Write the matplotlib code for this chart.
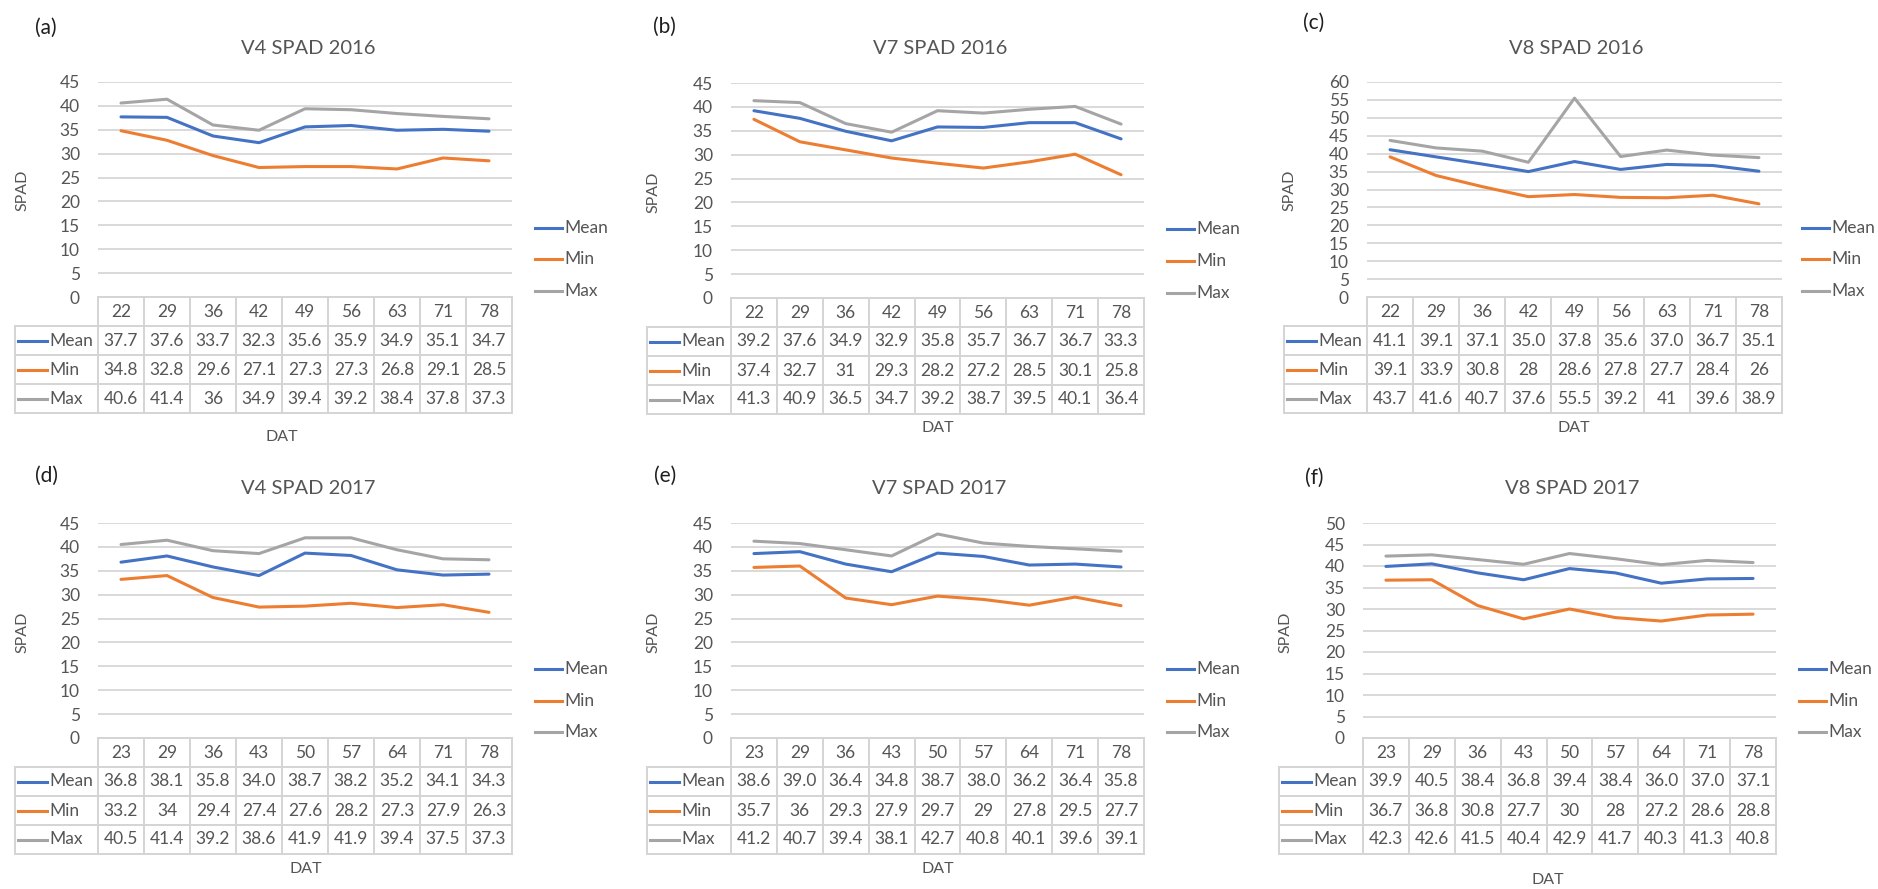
import matplotlib
matplotlib.use("Agg")
import matplotlib.pyplot as plt
from matplotlib.lines import Line2D

# ---------------------------------------------------------------- data
dat_2016 = [22, 29, 36, 42, 49, 56, 63, 71, 78]
dat_2017 = [23, 29, 36, 43, 50, 57, 64, 71, 78]

v4_2016_mean = [37.7, 37.6, 33.7, 32.3, 35.6, 35.9, 34.9, 35.1, 34.7]
v4_2016_min = [34.8, 32.8, 29.6, 27.1, 27.3, 27.3, 26.8, 29.1, 28.5]
v4_2016_max = [40.6, 41.4, 36, 34.9, 39.4, 39.2, 38.4, 37.8, 37.3]

v7_2016_mean = [39.2, 37.6, 34.9, 32.9, 35.8, 35.7, 36.7, 36.7, 33.3]
v7_2016_min = [37.4, 32.7, 31, 29.3, 28.2, 27.2, 28.5, 30.1, 25.8]
v7_2016_max = [41.3, 40.9, 36.5, 34.7, 39.2, 38.7, 39.5, 40.1, 36.4]

v8_2016_mean = [41.1, 39.1, 37.1, 35.0, 37.8, 35.6, 37.0, 36.7, 35.1]
v8_2016_min = [39.1, 33.9, 30.8, 28, 28.6, 27.8, 27.7, 28.4, 26]
v8_2016_max = [43.7, 41.6, 40.7, 37.6, 55.5, 39.2, 41, 39.6, 38.9]

v4_2017_mean = [36.8, 38.1, 35.8, 34.0, 38.7, 38.2, 35.2, 34.1, 34.3]
v4_2017_min = [33.2, 34, 29.4, 27.4, 27.6, 28.2, 27.3, 27.9, 26.3]
v4_2017_max = [40.5, 41.4, 39.2, 38.6, 41.9, 41.9, 39.4, 37.5, 37.3]

v7_2017_mean = [38.6, 39.0, 36.4, 34.8, 38.7, 38.0, 36.2, 36.4, 35.8]
v7_2017_min = [35.7, 36, 29.3, 27.9, 29.7, 29, 27.8, 29.5, 27.7]
v7_2017_max = [41.2, 40.7, 39.4, 38.1, 42.7, 40.8, 40.1, 39.6, 39.1]

v8_2017_mean = [39.9, 40.5, 38.4, 36.8, 39.4, 38.4, 36.0, 37.0, 37.1]
v8_2017_min = [36.7, 36.8, 30.8, 27.7, 30, 28, 27.2, 28.6, 28.8]
v8_2017_max = [42.3, 42.6, 41.5, 40.4, 42.9, 41.7, 40.3, 41.3, 40.8]

series_names = ["Mean", "Min", "Max"]
panel_letters = ["(a)", "(b)", "(c)", "(d)", "(e)", "(f)"]
panel_titles = ["V4 SPAD 2016", "V7 SPAD 2016", "V8 SPAD 2016",
                "V4 SPAD 2017", "V7 SPAD 2017", "V8 SPAD 2017"]
y_max = [45, 45, 60, 45, 45, 50]

# ---------------------------------------------------------------- style
W, H = 1878, 889
plt.rcParams["font.family"] = ["Lato", "DejaVu Sans"]
TEXT = "#555555"
GRID = "#D9D9D9"
CELL = "#D4D4D4"
COLORS = {"Mean": "#4472C4", "Min": "#ED7D31", "Max": "#A5A5A5"}
LW = 2.2
FS = 12.5

fig = plt.figure(figsize=(W / 100, H / 100), dpi=100)


def fx(x):
    return x / W


def fy(y):
    return 1 - y / H


# pixel geometry of each panel
layouts = [
    dict(L=98, R=512, T=82, B=297, TL=15, leg=535, title=(308, 48), lab=(35, 28),
         spad=(22, 190), datl=(282, 437), legy=(228, 259, 291)),
    dict(L=731, R=1144, T=83, B=298, TL=647, leg=1167, title=(940, 49), lab=(653, 27),
         spad=(653, 192), datl=(938, 428), legy=(229, 261, 293)),
    dict(L=1367, R=1782, T=82, B=297, TL=1284, leg=1802, title=(1576, 48), lab=(1303, 23),
         spad=(1289, 190), datl=(1574, 428), legy=(228, 259, 291)),
    dict(L=98, R=512, T=523, B=738, TL=15, leg=535, title=(308, 488), lab=(35, 476),
         spad=(22, 632), datl=(306, 869), legy=(669, 701, 732)),
    dict(L=731, R=1144, T=523, B=738, TL=647, leg=1167, title=(939, 488), lab=(654, 476),
         spad=(653, 632), datl=(938, 869), legy=(669, 701, 732)),
    dict(L=1363, R=1776, T=523, B=738, TL=1279, leg=1799, title=(1572, 488), lab=(1305, 478),
         spad=(1285, 632), datl=(1548, 880), legy=(669, 701, 732)),
]

panel_data = [
    (dat_2016, [v4_2016_mean, v4_2016_min, v4_2016_max]),
    (dat_2016, [v7_2016_mean, v7_2016_min, v7_2016_max]),
    (dat_2016, [v8_2016_mean, v8_2016_min, v8_2016_max]),
    (dat_2017, [v4_2017_mean, v4_2017_min, v4_2017_max]),
    (dat_2017, [v7_2017_mean, v7_2017_min, v7_2017_max]),
    (dat_2017, [v8_2017_mean, v8_2017_min, v8_2017_max]),
]

ROW_H = 29


def fmt(name, v):
    return f"{v:.1f}" if name == "Mean" else f"{v:g}"


for k, (lay, (days, values)) in enumerate(zip(layouts, panel_data)):
    L, R, T, B, TL = lay["L"], lay["R"], lay["T"], lay["B"], lay["TL"]
    n = len(days)
    xs = list(range(n))

    # line chart
    ax = fig.add_axes([fx(L), fy(B), (R - L) / W, (B - T) / H])
    ax.set_xlim(-0.5, n - 0.5)
    ax.set_ylim(0, y_max[k])
    ax.set_yticks(range(0, y_max[k] + 1, 5))
    ax.set_xticks([])
    ax.yaxis.grid(True, color=GRID, lw=1.4)
    ax.set_axisbelow(True)
    for s in ax.spines.values():
        s.set_visible(False)
    ax.tick_params(axis="y", length=0, pad=13, labelsize=FS, labelcolor=TEXT)
    for name, vals in zip(series_names, values):
        ax.plot(xs, vals, color=COLORS[name], lw=LW,
                solid_joinstyle="round", solid_capstyle="round", clip_on=False)

    # data table below the chart, sharing the category positions
    colw = (R - L) / n
    left = -0.5 - (L - TL) / colw
    TB = B + 4 * ROW_H
    tax = fig.add_axes([fx(TL), fy(TB), (R - TL) / W, (TB - B) / H])
    tax.set_xlim(left, n - 0.5)
    tax.set_ylim(4, 0)
    tax.axis("off")
    lk = dict(color=CELL, lw=1.4, clip_on=False, solid_capstyle="projecting")
    tax.plot([-0.5, n - 0.5], [0, 0], **lk)
    for r in range(1, 5):
        tax.plot([left, n - 0.5], [r, r], **lk)
    for c in range(n + 1):
        tax.plot([-0.5 + c, -0.5 + c], [0, 4], **lk)
    tax.plot([left, left], [1, 4], **lk)
    for i, d in enumerate(days):
        tax.text(i, 0.5, str(d), ha="center", va="center", fontsize=FS, color=TEXT)
    for r, (name, vals) in enumerate(zip(series_names, values), start=1):
        for i, v in enumerate(vals):
            tax.text(i, r + 0.5, fmt(name, v), ha="center", va="center",
                     fontsize=FS, color=TEXT)
        tax.plot([left + 3 / colw, left + 32 / colw], [r + 0.5, r + 0.5],
                 color=COLORS[name], lw=LW, clip_on=False)
        tax.text(left + 34 / colw, r + 0.5, name, ha="left", va="center",
                 fontsize=FS, color=TEXT)

    # legend on the right
    for name, ly in zip(series_names, lay["legy"]):
        fig.add_artist(Line2D([fx(lay["leg"]), fx(lay["leg"] + 27)], [fy(ly), fy(ly)],
                              color=COLORS[name], lw=LW))
        fig.text(fx(lay["leg"] + 29), fy(ly), name, ha="left", va="center",
                 fontsize=FS, color=TEXT)

    # titles and labels
    fig.text(fx(lay["title"][0]), fy(lay["title"][1]), panel_titles[k],
             ha="center", va="center", fontsize=14.5, color=TEXT)
    fig.text(fx(lay["lab"][0]), fy(lay["lab"][1]), panel_letters[k],
             ha="left", va="center", fontsize=15, color="#1e1e1e")
    fig.text(fx(lay["spad"][0]), fy(lay["spad"][1]), "SPAD", rotation=90,
             ha="center", va="center", fontsize=11.5, color=TEXT)
    fig.text(fx(lay["datl"][0]), fy(lay["datl"][1]), "DAT",
             ha="center", va="center", fontsize=11.5, color=TEXT)

fig.savefig("out.png", dpi=100, facecolor="white")
